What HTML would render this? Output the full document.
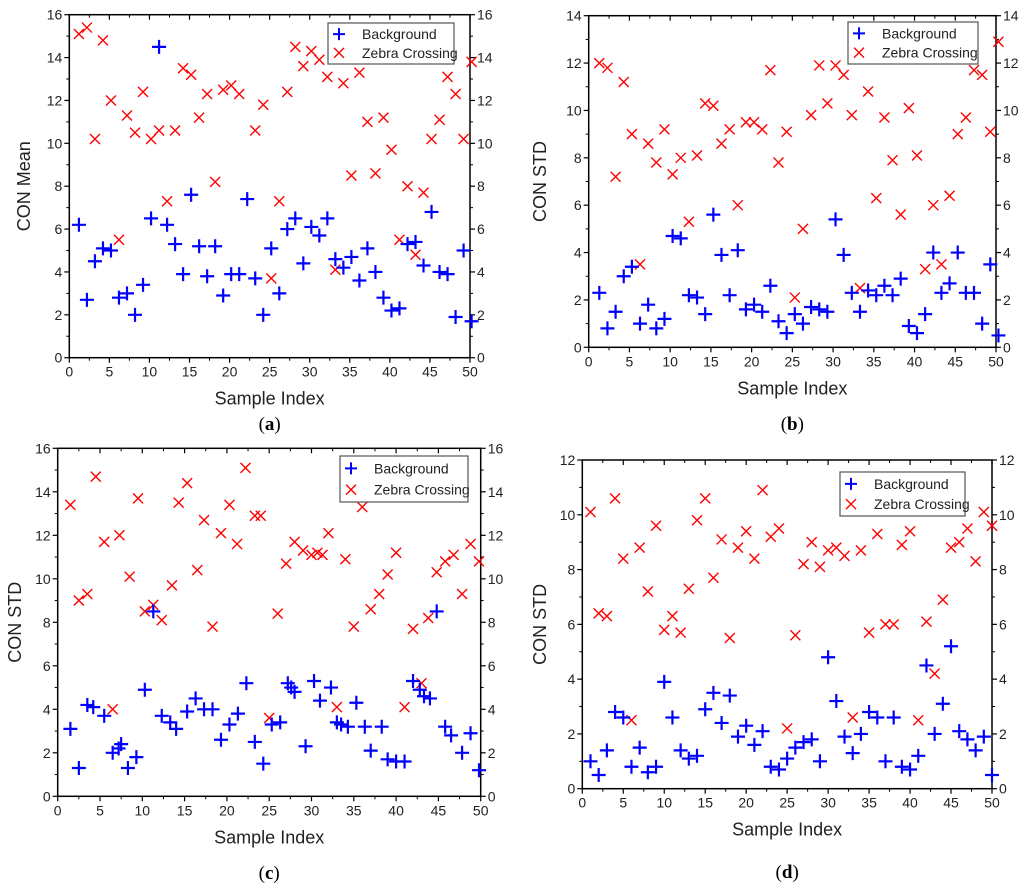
<!DOCTYPE html>
<html><head><meta charset="utf-8"><style>
html,body{margin:0;padding:0;background:#fff;}
svg{display:block;font-family:"Liberation Sans",Arial,sans-serif;}
</style></head><body>
<svg id="fig" width="1024" height="894" viewBox="0 0 1024 894" xmlns="http://www.w3.org/2000/svg"></svg>
<script>
// ---- Panel (a) data: CON Mean ----
const aBgY = [6.2,2.7,4.5,5.1,5.0,2.8,3.0,2.0,3.4,6.5,14.5,6.2,5.3,3.9,7.6,5.2,3.8,5.2,2.9,3.9,3.9,7.4,3.7,2.0,5.1,3.0,6.0,6.5,4.4,6.1,5.7,6.5,4.6,4.2,4.7,3.6,5.1,4.0,2.8,2.2,2.3,5.3,5.4,4.3,6.8,4.0,3.9,1.9,5.0,1.7];
const aZcY = [15.1,15.4,10.2,14.8,12.0,5.5,11.3,10.5,12.4,10.2,10.6,7.3,10.6,13.5,13.2,11.2,12.3,8.2,12.5,12.7,12.3,null,10.6,11.8,3.7,7.3,12.4,14.5,13.6,14.3,13.9,13.1,4.1,12.8,8.5,13.3,11.0,8.6,11.2,9.7,5.5,8.0,4.8,7.7,10.2,11.1,13.1,12.3,10.2,13.8];
// ---- Panel (b) data: CON STD ----
const bBgY = [2.3,0.8,1.5,3.0,3.4,1.0,1.8,0.8,1.2,4.7,4.6,2.2,2.1,1.4,5.6,3.9,2.2,4.1,1.6,1.8,1.5,2.6,1.1,0.6,1.4,1.0,1.7,1.6,1.5,5.4,3.9,2.3,1.5,2.4,2.2,2.6,2.2,2.9,0.9,0.6,1.4,4.0,2.3,2.7,4.0,2.3,2.3,1.0,3.5,0.5];
const bZcY = [12.0,11.8,7.2,11.2,9.0,3.5,8.6,7.8,9.2,7.3,8.0,5.3,8.1,10.3,10.2,8.6,9.2,6.0,9.5,9.5,9.2,11.7,7.8,9.1,2.1,5.0,9.8,11.9,10.3,11.9,11.5,9.8,2.5,10.8,6.3,9.7,7.9,5.6,10.1,8.1,3.3,6.0,3.5,6.4,9.0,9.7,11.7,11.5,9.1,12.9];
// ---- Panel (c) data ----
const cBgX = [1.5,2.5,3.5,4.2,5.5,6.5,7.2,7.5,8.3,9.3,10.3,11.3,12.3,13.3,14,15.3,16.3,17.3,18.3,19.3,20.3,21.3,22.3,23.3,24.3,25.3,26.3,27.2,27.6,28,29.3,30.3,31,32.3,33,33.5,34.3,35.3,36.3,37,38.3,39,40,41,42,42.8,43.3,44,44.8,45.8,46.5,47.8,48.8,49.8];
const cBgY = [3.1,1.3,4.2,4.1,3.7,2.0,2.2,2.4,1.3,1.8,4.9,8.5,3.7,3.4,3.1,3.9,4.5,4.0,4.0,2.6,3.3,3.8,5.2,2.5,1.5,3.3,3.4,5.2,5.0,4.8,2.3,5.3,4.4,5.0,3.4,3.3,3.2,4.3,3.2,2.1,3.2,1.7,1.6,1.6,5.3,4.9,4.6,4.5,8.5,3.2,2.8,2.0,2.9,1.2];
const cZcX = [1.5,2.5,3.5,4.5,5.5,6.5,7.3,8.5,9.5,10.3,11.3,12.3,13.5,14.3,15.3,16.5,17.3,18.3,19.3,20.3,21.2,22.2,23.3,24,25,26,27,28,29,30,30.7,31.3,32,33,34,35,36,37,38,39,40,41,42,43,43.8,44.8,45.8,46.8,47.8,48.8,49.8];
const cZcY = [13.4,9.0,9.3,14.7,11.7,4.0,12.0,10.1,13.7,8.5,8.8,8.1,9.7,13.5,14.4,10.4,12.7,7.8,12.1,13.4,11.6,15.1,12.9,12.9,3.6,8.4,10.7,11.7,11.3,11.1,11.2,11.1,12.1,4.1,10.9,7.8,13.3,8.6,9.3,10.2,11.2,4.1,7.7,5.2,8.2,10.3,10.8,11.1,9.3,11.6,10.8];
// ---- Panel (d) data ----
const dBgY = [1.0,0.5,1.4,2.8,2.6,0.8,1.5,0.6,0.8,3.9,2.6,1.4,1.1,1.2,2.9,3.5,2.4,3.4,1.9,2.3,1.6,2.1,0.8,0.7,1.1,1.5,1.7,1.8,1.0,4.8,3.2,1.9,1.3,2.0,2.8,2.6,1.0,2.6,0.8,0.7,1.2,4.5,2.0,3.1,5.2,2.1,1.8,1.4,1.9,0.5];
const dZcY = [10.1,6.4,6.3,10.6,8.4,2.5,8.8,7.2,9.6,5.8,6.3,5.7,7.3,9.8,10.6,7.7,9.1,5.5,8.8,9.4,8.4,10.9,9.2,9.5,2.2,5.6,8.2,9.0,8.1,8.7,8.8,8.5,2.6,8.7,5.7,9.3,6.0,6.0,8.9,9.4,2.5,6.1,4.2,6.9,8.8,9.0,9.5,8.3,10.1,9.6];
const xTicks = [0,5,10,15,20,25,30,35,40,45,50];
const seriesNames = ["Background","Zebra Crossing"];

const NS = "http://www.w3.org/2000/svg";
const svg = document.getElementById('fig');
function mk(tag, attrs, parent, name, text){
  const e = document.createElementNS(NS, tag);
  for (const k in attrs) e.setAttribute(k, attrs[k]);
  
  
  if (text !== undefined) e.textContent = text;
  (parent || svg).appendChild(e);
  return e;
}
function idx(arr, off){ return arr.map((v,i)=> i+1+off); }

function panel(p){
  const g = mk('g', {}, svg, 'panel-' + p.id);
  const sx = v => p.x0 + (v/50)*(p.x1-p.x0);
  const sy = v => p.y0 - (v/p.ymax)*(p.y0-p.y1);
  mk('rect', {x:p.x0, y:p.y1, width:p.x1-p.x0, height:p.y0-p.y1, fill:'none', stroke:'#000', 'stroke-width':1.5}, g, 'plot-frame');
  // x ticks
  xTicks.forEach(t=>{
    const x = sx(t);
    mk('line',{x1:x,y1:p.y0,x2:x,y2:p.y0+5,stroke:'#000','stroke-width':1.2},g,'x-tick');
    mk('line',{x1:x,y1:p.y1,x2:x,y2:p.y1+5,stroke:'#000','stroke-width':1.2},g,'x-tick-top');
    mk('text',{x:x,y:p.y0+19,'font-size':14,'text-anchor':'middle',fill:'#222'},g,'x-tick-label',String(t));
    if (t<50){ const xm = sx(t+2.5);
      mk('line',{x1:xm,y1:p.y0,x2:xm,y2:p.y0+3,stroke:'#000','stroke-width':1},g,'x-minor-tick');
      mk('line',{x1:xm,y1:p.y1,x2:xm,y2:p.y1+3,stroke:'#000','stroke-width':1},g,'x-minor-tick-top'); }
  });
  // y ticks
  for (let t=0; t<=p.ymax; t+=2){
    const y = sy(t);
    mk('line',{x1:p.x0-5,y1:y,x2:p.x0,y2:y,stroke:'#000','stroke-width':1.2},g,'y-tick');
    mk('line',{x1:p.x1,y1:y,x2:p.x1+5,y2:y,stroke:'#000','stroke-width':1.2},g,'y-tick-right');
    mk('text',{x:p.x0-7,y:y+5,'font-size':14,'text-anchor':'end',fill:'#222'},g,'y-tick-label',String(t));
    mk('text',{x:p.x1+7,y:y+5,'font-size':14,'text-anchor':'start',fill:'#222'},g,'y-tick-label-right',String(t));
    if (t<p.ymax){ const ym = sy(t+1);
      mk('line',{x1:p.x0-3,y1:ym,x2:p.x0,y2:ym,stroke:'#000','stroke-width':1},g,'y-minor-tick');
      mk('line',{x1:p.x1,y1:ym,x2:p.x1+3,y2:ym,stroke:'#000','stroke-width':1},g,'y-minor-tick-right'); }
  }
  mk('text',{x:(p.x0+p.x1)/2,y:p.y0+47,'font-size':18,'text-anchor':'middle',fill:'#222'},g,'x-axis-title','Sample Index');
  mk('text',{x:p.ylx,y:(p.y0+p.y1)/2,'font-size':18,'text-anchor':'middle',fill:'#222',transform:`rotate(-90 ${p.ylx} ${(p.y0+p.y1)/2})`},g,'y-axis-title',p.ylabel);
  const cap = mk('text',{x:(p.x0+p.x1)/2,y:p.capY,'font-size':19,'text-anchor':'middle','font-family':'"Liberation Serif",serif',fill:'#000'},g,'panel-caption');
  cap.innerHTML = '(<tspan font-weight="bold">'+p.id+'</tspan>)';
  // zebra
  p.zx.forEach((xv,i)=>{
    const v = p.zy[i]; if (v===null) return;
    const x = sx(xv), y = sy(v), s=5;
    const m = mk('path',{d:`M${x-s},${y-s}L${x+s},${y+s}M${x-s},${y+s}L${x+s},${y-s}`,stroke:'#f00','stroke-width':1.4,fill:'none'},g,'zebra-point');
  });
  // background
  p.bx.forEach((xv,i)=>{
    const x = sx(xv), y = sy(p.by[i]), s=7;
    mk('path',{d:`M${x-s},${y}L${x+s},${y}M${x},${y-s}L${x},${y+s}`,stroke:'#0000ff','stroke-width':2.2,fill:'none'},g,'background-point');
  });
  // legend
  const L = p.leg;
  const lg = mk('g',{},g,'legend');
  mk('rect',{x:L[0],y:L[1],width:L[2],height:L[3],fill:'#fff',stroke:'#555','stroke-width':1.2},lg,'legend-box');
  const y1 = L[1]+L[3]*0.27, y2 = L[1]+L[3]*0.73, mx = L[0]+11;
  mk('path',{d:`M${mx-6},${y1}L${mx+6},${y1}M${mx},${y1-6}L${mx},${y1+6}`,stroke:'#0000ff','stroke-width':2,fill:'none'},lg,'legend-background-marker');
  mk('path',{d:`M${mx-5},${y2-5}L${mx+5},${y2+5}M${mx-5},${y2+5}L${mx+5},${y2-5}`,stroke:'#f00','stroke-width':1.4,fill:'none'},lg,'legend-zebra-marker');
  mk('text',{x:L[0]+34,y:y1+5,'font-size':14,fill:'#222'},lg,'legend-background-label',seriesNames[0]);
  mk('text',{x:L[0]+34,y:y2+5,'font-size':14,fill:'#222'},lg,'legend-zebra-label',seriesNames[1]);
}

panel({id:'a', x0:69.3, x1:470, y0:357.7, y1:14.7, ymax:16, ylabel:'CON Mean', ylx:30, capY:430,
  bx:idx(aBgY,0.2), by:aBgY, zx:idx(aZcY,0.2), zy:aZcY, leg:[328,23,126,41]});
panel({id:'b', x0:588.7, x1:996, y0:347.3, y1:15.7, ymax:14, ylabel:'CON STD', ylx:546, capY:430,
  bx:idx(bBgY,0.3), by:bBgY, zx:idx(bZcY,0.3), zy:bZcY, leg:[848,22,130,42]});
panel({id:'c', x0:57.7, x1:480.7, y0:796.3, y1:448.3, ymax:16, ylabel:'CON STD', ylx:21, capY:879,
  bx:cBgX, by:cBgY, zx:cZcX, zy:cZcY, leg:[340,456,128,46]});
panel({id:'d', x0:582.3, x1:992, y0:788.7, y1:460, ymax:12, ylabel:'CON STD', ylx:546, capY:878,
  bx:idx(dBgY,0), by:dBgY, zx:idx(dZcY,0), zy:dZcY, leg:[840,472,125,44]});
</script>
</body></html>
